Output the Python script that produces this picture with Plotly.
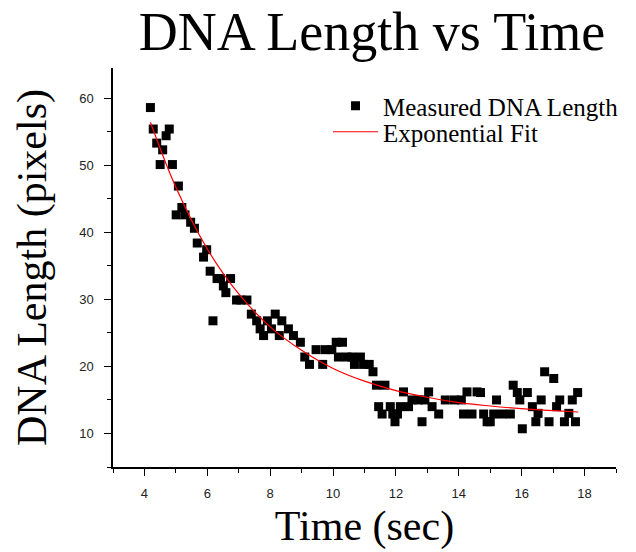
import plotly.graph_objects as go

time_sec = [4.19, 4.28, 4.39, 4.50, 4.58, 4.69, 4.79, 4.89, 5.01, 5.08,
            5.19, 5.29, 5.47, 5.59, 5.68, 5.88, 5.98, 6.09, 6.18, 6.31,
            6.42, 6.51, 6.59, 6.74, 6.93, 7.07, 7.26, 7.40, 7.57, 7.68,
            7.79, 7.91, 8.04, 8.16, 8.29, 8.37, 8.58, 8.74, 8.96, 9.10,
            9.25, 9.46, 9.67, 9.75, 9.96, 10.10, 10.17, 10.30, 10.44, 10.60,
            10.68, 10.87, 10.97, 11.15, 11.27, 11.38, 11.45, 11.56, 11.65, 11.82,
            11.90, 11.97, 12.05, 12.14, 12.24, 12.40, 12.51, 12.72, 12.83, 12.92,
            13.04, 13.15, 13.36, 13.57, 13.86, 14.08, 14.15, 14.26, 14.42, 14.58,
            14.69, 14.79, 14.90, 15.00, 15.11, 15.20, 15.38, 15.64, 15.73, 15.86,
            15.94, 16.02, 16.18, 16.34, 16.45, 16.52, 16.62, 16.73, 16.87, 17.02,
            17.11, 17.21, 17.36, 17.50, 17.61, 17.71, 17.78]
length_px = [58.6, 55.4, 53.3, 50.1, 52.3, 54.4, 55.4, 50.1, 42.6, 46.9,
             43.7, 42.6, 41.5, 40.6, 38.4, 36.3, 37.4, 34.2, 26.8, 33.1,
             33.1, 32.0, 31.0, 33.1, 29.9, 29.9, 29.9, 27.8, 26.8, 25.6,
             24.6, 26.8, 25.6, 27.8, 24.6, 26.8, 25.6, 24.6, 23.6, 21.4,
             20.3, 22.5, 20.3, 22.5, 22.5, 23.6, 21.4, 23.6, 21.4, 21.4,
             20.3, 21.4, 20.3, 20.3, 19.2, 17.2, 14.0, 12.9, 17.2, 14.0,
             12.9, 11.75, 12.9, 14.0, 16.2, 14.0, 15.0, 15.0, 11.75, 15.0,
             16.2, 14.0, 12.9, 15.0, 15.0, 15.0, 12.9, 16.2, 12.9, 16.2,
             16.1, 12.9, 11.75, 11.75, 12.9, 15.0, 12.9, 12.9, 17.2, 16.1,
             15.0, 10.7, 16.1, 14.0, 11.75, 13.0, 15.0, 19.2, 11.75, 18.2,
             14.0, 15.0, 11.75, 13.0, 15.0, 11.75, 16.1]

# Exponential fit curve
fit_time = [4.19, 5, 6, 7, 8, 9, 10, 11, 12, 13, 14, 15, 16, 17, 17.8]
fit_length = [56.4, 46.7, 37.5, 30.8, 25.9, 22.4, 19.7, 17.8, 16.4, 15.4,
              14.6, 14.1, 13.7, 13.4, 13.2]

x_ticks = [4, 6, 8, 10, 12, 14, 16, 18]
y_ticks = [10, 20, 30, 40, 50, 60]

SERIF = "Liberation Serif, Times New Roman, serif"
SANS = "Liberation Sans, Arial, sans-serif"

fig = go.Figure()
fig.add_trace(go.Scatter(
    x=time_sec, y=length_px, mode="markers", name="Measured DNA Length",
    marker=dict(symbol="square", size=9, color="black", line=dict(width=0)),
    legend="legend",
))
fig.add_trace(go.Scatter(
    x=fit_time, y=fit_length, mode="lines", name="Exponential Fit",
    line=dict(color="red", width=1.2, shape="spline"),
    legend="legend2",
))

axis_common = dict(
    showline=True, linecolor="black", linewidth=1.5, mirror=False,
    showgrid=False, zeroline=False,
    ticks="outside", ticklen=7, tickwidth=1.3, tickcolor="black",
    tickfont=dict(family=SANS, size=13, color="#222"),
    automargin=False,
)

legend_common = dict(
    xref="container", yref="container",
    x=328 / 636, xanchor="left", yanchor="middle",
    font=dict(family=SERIF, size=25, color="black"),
    bgcolor="rgba(0,0,0,0)", borderwidth=0, itemwidth=45,
)

fig.update_layout(
    width=636, height=552,
    margin=dict(l=113, r=20, t=68, b=85, autoexpand=False),
    paper_bgcolor="white", plot_bgcolor="white",
    title=dict(text="DNA Length vs Time",
               font=dict(family=SERIF, size=54, color="black"),
               x=0.585, xanchor="center", y=1 - 31 / 552, yanchor="middle"),
    showlegend=True,
    legend=dict(y=1 - 106 / 552, **legend_common),
    legend2=dict(y=1 - 132 / 552, **legend_common),
    xaxis=dict(range=[3, 19], tickvals=x_ticks, ticklabelstandoff=7,
               minor=dict(dtick=1, tick0=3, ticks="outside", ticklen=4, tickcolor="black", tickwidth=1.2),
               title=dict(text="Time (sec)", font=dict(family=SERIF, size=42, color="black"), standoff=10),
               **axis_common),
    yaxis=dict(range=[5, 64.5], tickvals=y_ticks, ticklabelstandoff=8,
               minor=dict(dtick=5, tick0=5, ticks="outside", ticklen=4, tickcolor="black", tickwidth=1.2),
               title=dict(text="DNA Length (pixels)", font=dict(family=SERIF, size=42, color="black"), standoff=19),
               **axis_common),
)

fig.write_html("out.html")
